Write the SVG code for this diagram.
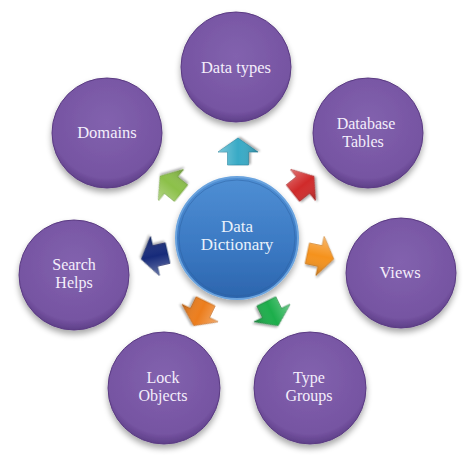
<svg xmlns="http://www.w3.org/2000/svg" width="474" height="465" viewBox="0 0 474 465">
<defs>
<radialGradient id="gPurple" cx="50%" cy="40%" r="60%">
<stop offset="0" stop-color="#8262ae"/>
<stop offset="0.85" stop-color="#7654a2"/>
<stop offset="1" stop-color="#5e3f88"/>
</radialGradient>
<linearGradient id="gBlue" x1="0" y1="0" x2="0" y2="1">
<stop offset="0" stop-color="#4f8fd4"/>
<stop offset="0.6" stop-color="#3a78c2"/>
<stop offset="1" stop-color="#2c65ad"/>
</linearGradient>
<filter id="shadow" x="-30%" y="-30%" width="160%" height="170%">
<feGaussianBlur in="SourceAlpha" stdDeviation="3"/>
<feOffset dx="0" dy="4" result="b"/>
<feComponentTransfer><feFuncA type="linear" slope="0.35"/></feComponentTransfer>
<feMerge><feMergeNode/><feMergeNode in="SourceGraphic"/></feMerge>
</filter>
<filter id="ashadow" x="-30%" y="-30%" width="160%" height="160%">
<feGaussianBlur in="SourceAlpha" stdDeviation="1.2"/>
<feOffset dx="1" dy="2"/>
<feComponentTransfer><feFuncA type="linear" slope="0.35"/></feComponentTransfer>
<feMerge><feMergeNode/><feMergeNode in="SourceGraphic"/></feMerge>
</filter>
<linearGradient id="gShine" x1="0" y1="0" x2="0" y2="1">
<stop offset="0" stop-color="#ffffff" stop-opacity="0.35"/>
<stop offset="0.5" stop-color="#ffffff" stop-opacity="0"/>
<stop offset="1" stop-color="#000000" stop-opacity="0.2"/>
</linearGradient>
<path id="arrow" d="M-13,-10.5 L0,-10.5 L0,-20 L14,0 L0,20 L0,10.5 L-13,10.5 Z"/>
</defs>
<style>
.outer{fill:url(#gPurple);stroke:#5a3b82;stroke-width:1;filter:url(#shadow)}
.lbl{font-family:"Liberation Serif","Times New Roman",serif;font-size:16px;fill:#f4eefb;text-anchor:middle}
.big{font-size:16.5px}
.clbl{font-family:"Liberation Serif","Times New Roman",serif;font-size:17px;fill:#e9f1fb;text-anchor:middle}
.arr{stroke-width:0.6;filter:url(#ashadow)}
</style>
<rect width="474" height="465" fill="#ffffff"/>

<g id="connectors">
<g transform="translate(238,152) rotate(-90)"><use href="#arrow" class="arr" fill="#37aac6" stroke="#23819b"/><use href="#arrow" fill="url(#gShine)"/></g>
<g transform="translate(303,185) rotate(-38.7)"><use href="#arrow" class="arr" fill="#d02b2b" stroke="#9e1b1b"/><use href="#arrow" fill="url(#gShine)"/></g>
<g transform="translate(320,256) rotate(12)"><use href="#arrow" class="arr" fill="#f5921e" stroke="#c46f10"/><use href="#arrow" fill="url(#gShine)"/></g>
<g transform="translate(272,313) rotate(64)"><use href="#arrow" class="arr" fill="#1fae4c" stroke="#137a33"/><use href="#arrow" fill="url(#gShine)"/></g>
<g transform="translate(200,313) rotate(116)"><use href="#arrow" class="arr" fill="#ec7d1c" stroke="#b85a0c"/><use href="#arrow" fill="url(#gShine)"/></g>
<g transform="translate(155,256) rotate(167)"><use href="#arrow" class="arr" fill="#142b7a" stroke="#0b1a55"/><use href="#arrow" fill="url(#gShine)"/></g>
<g transform="translate(171,185) rotate(-141)"><use href="#arrow" class="arr" fill="#8cc04a" stroke="#6a9a30"/><use href="#arrow" fill="url(#gShine)"/></g>
</g>

<g id="data-dictionary">
<circle cx="237" cy="238" r="61" fill="url(#gBlue)" stroke="#6aa3de" stroke-width="2" filter="url(#shadow)"/>
<circle cx="237" cy="238" r="58" fill="none" stroke="#2b5f9f" stroke-width="1" opacity="0.5"/>
<text class="clbl" x="237" y="232">Data</text>
<text class="clbl" x="237" y="250">Dictionary</text>
</g>

<g id="data-types">
<circle class="outer" cx="236" cy="67" r="55"/>
<text class="lbl big" x="236" y="73">Data types</text>
</g>

<g id="database-tables">
<circle class="outer" cx="368" cy="133" r="55"/>
<text class="lbl" x="366" y="129">Database</text>
<text class="lbl" x="363" y="147">Tables</text>
</g>

<g id="views">
<circle class="outer" cx="401" cy="273" r="55"/>
<text class="lbl big" x="400" y="278">Views</text>
</g>

<g id="type-groups">
<circle class="outer" cx="310" cy="388" r="56"/>
<text class="lbl" x="309" y="383">Type</text>
<text class="lbl" x="309" y="401">Groups</text>
</g>

<g id="lock-objects">
<circle class="outer" cx="164" cy="388" r="56"/>
<text class="lbl" x="163" y="383">Lock</text>
<text class="lbl" x="163" y="401">Objects</text>
</g>

<g id="search-helps">
<circle class="outer" cx="74" cy="275" r="55"/>
<text class="lbl" x="74" y="270">Search</text>
<text class="lbl" x="74" y="288">Helps</text>
</g>

<g id="domains">
<circle class="outer" cx="107" cy="133" r="55"/>
<text class="lbl big" x="107" y="138">Domains</text>
</g>
</svg>
